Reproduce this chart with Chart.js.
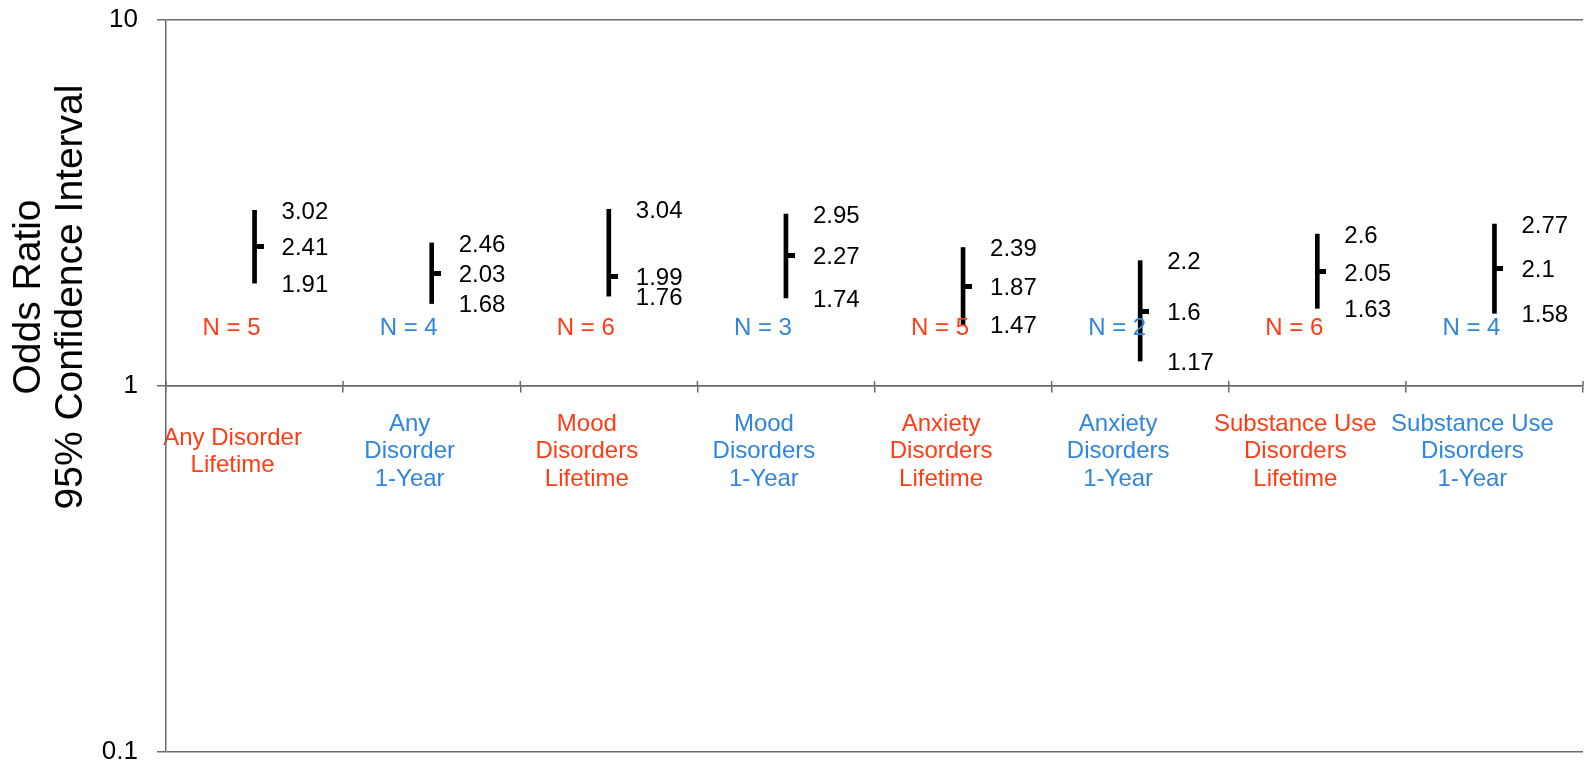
<!DOCTYPE html>
<html>
<head>
<meta charset="utf-8">
<title>Odds Ratio, 95% Confidence Interval</title>
<script src="https://cdn.jsdelivr.net/npm/chart.js@4/dist/chart.umd.min.js"></script>
<style>
  html, body { margin: 0; padding: 0; background: #ffffff; }
  #wrap { width: 1589px; height: 768px; }
</style>
</head>
<body>
<div id="wrap"><canvas id="chart" width="1589" height="768"></canvas></div>
<script>
// Disorder groups, each split into lifetime and 1-year prevalence
const categories = [
  ['Any Disorder', 'Lifetime'],
  ['Any', 'Disorder', '1-Year'],
  ['Mood', 'Disorders', 'Lifetime'],
  ['Mood', 'Disorders', '1-Year'],
  ['Anxiety', 'Disorders', 'Lifetime'],
  ['Anxiety', 'Disorders', '1-Year'],
  ['Substance Use', 'Disorders', 'Lifetime'],
  ['Substance Use', 'Disorders', '1-Year']
];
const oddsRatio = [2.41, 2.03, 1.99, 2.27, 1.87, 1.6, 2.05, 2.1];
const ciLower   = [1.91, 1.68, 1.76, 1.74, 1.47, 1.17, 1.63, 1.58];
const ciUpper   = [3.02, 2.46, 3.04, 2.95, 2.39, 2.2, 2.6, 2.77];
const studies   = [5, 4, 6, 3, 5, 2, 6, 4];
const yTicks    = [0.1, 1, 10];
const yTickLabels = ['0.1', '1', '10'];
const titleLines = ['Odds Ratio', '95% Confidence Interval'];

const RED = '#ff3d14';
const BLUE = '#2f86dc';
const AXIS = '#6b6b6b';
const FONT = "'Liberation Sans', Arial, Helvetica, sans-serif";
const groupColor = i => categories[i][categories[i].length - 1] === 'Lifetime' ? RED : BLUE;

// Point marker: short horizontal stub on the right side of the interval line
const stub = document.createElement('canvas');
stub.width = 18; stub.height = 5;
(function () {
  const c = stub.getContext('2d');
  c.fillStyle = '#000';
  c.fillRect(9, 0, 9, 5);
})();

const annotations = {
  id: 'annotations',
  afterDraw(chart) {
    const { ctx, scales: { x, y } } = chart;
    ctx.save();

    // upper half of the category boundary ticks (they cross the axis line)
    ctx.strokeStyle = AXIS;
    ctx.lineWidth = 1.5;
    const axisY = y.getPixelForValue(1);
    for (let i = 0; i <= categories.length; i++) {
      const px = x.getPixelForValue(i - 0.5);
      ctx.beginPath();
      ctx.moveTo(px, axisY - 5);
      ctx.lineTo(px, axisY);
      ctx.stroke();
    }

    // interval values next to each line
    ctx.font = '24px ' + FONT;
    ctx.fillStyle = '#000';
    ctx.textAlign = 'left';
    ctx.textBaseline = 'middle';
    for (let i = 0; i < categories.length; i++) {
      const px = x.getPixelForValue(i) + 27;
      ctx.fillText(String(ciUpper[i]), px, y.getPixelForValue(ciUpper[i]) + 2);
      ctx.fillText(String(oddsRatio[i]), px, y.getPixelForValue(oddsRatio[i]) + 2);
      ctx.fillText(String(ciLower[i]), px, y.getPixelForValue(ciLower[i]) + 2);
    }

    // number of studies
    ctx.textAlign = 'center';
    for (let i = 0; i < categories.length; i++) {
      ctx.fillStyle = groupColor(i);
      ctx.fillText('N = ' + studies[i], x.getPixelForValue(i) - 23, axisY - 58);
    }

    // rotated axis title
    ctx.fillStyle = '#000';
    ctx.font = '39px ' + FONT;
    ctx.textAlign = 'center';
    ctx.textBaseline = 'middle';
    const cy = (y.top + axisY) / 2 + 94;
    [29, 71].forEach((cx, k) => {
      ctx.save();
      ctx.translate(cx, cy);
      ctx.rotate(-Math.PI / 2);
      ctx.fillText(titleLines[k], 0, 0);
      ctx.restore();
    });
    ctx.restore();
  }
};

new Chart(document.getElementById('chart'), {
  type: 'bar',
  data: {
    labels: categories,
    datasets: [
      {
        type: 'bar',
        data: ciLower.map((lo, i) => [lo, ciUpper[i]]),
        backgroundColor: '#000',
        borderWidth: 0,
        barThickness: 4,
        order: 2
      },
      {
        type: 'line',
        data: oddsRatio,
        showLine: false,
        pointStyle: stub,
        pointRadius: 5,
        order: 1
      }
    ]
  },
  options: {
    responsive: false,
    animation: false,
    events: [],
    layout: { padding: { left: 102, right: 3, top: 20, bottom: 16 } },
    plugins: { legend: { display: false }, tooltip: { enabled: false } },
    scales: {
      x: {
        type: 'category',
        offset: true,
        position: { y: 1 },
        afterFit: s => { s.paddingLeft = 0; s.paddingRight = 0; },
        border: { display: true, color: AXIS, width: 1.5 },
        grid: {
          display: true,
          offset: true,
          drawOnChartArea: false,
          drawTicks: true,
          tickLength: 6,
          color: AXIS,
          lineWidth: 1.5
        },
        ticks: {
          autoSkip: false,
          maxRotation: 0,
          minRotation: 0,
          padding: 32,
          labelOffset: -22,
          crossAlign: 'center',
          font: { family: FONT, size: 24, lineHeight: 1.16 },
          color: ctx => groupColor(ctx.index)
        }
      },
      y: {
        type: 'logarithmic',
        min: 0.1,
        max: 10,
        afterBuildTicks: s => { s.ticks = yTicks.map(v => ({ value: v })); },
        afterFit: s => { s.width = 64; s.paddingTop = 0; s.paddingBottom = 0; },
        border: { display: true, color: AXIS, width: 1.5 },
        grid: {
          display: true,
          drawOnChartArea: true,
          drawTicks: true,
          tickLength: 9,
          color: AXIS,
          lineWidth: 1.5
        },
        ticks: {
          padding: 19,
          font: { family: FONT, size: 26 },
          color: '#000',
          callback: (v, idx) => yTickLabels[idx]
        }
      }
    }
  },
  plugins: [annotations]
});
</script>
</body>
</html>
